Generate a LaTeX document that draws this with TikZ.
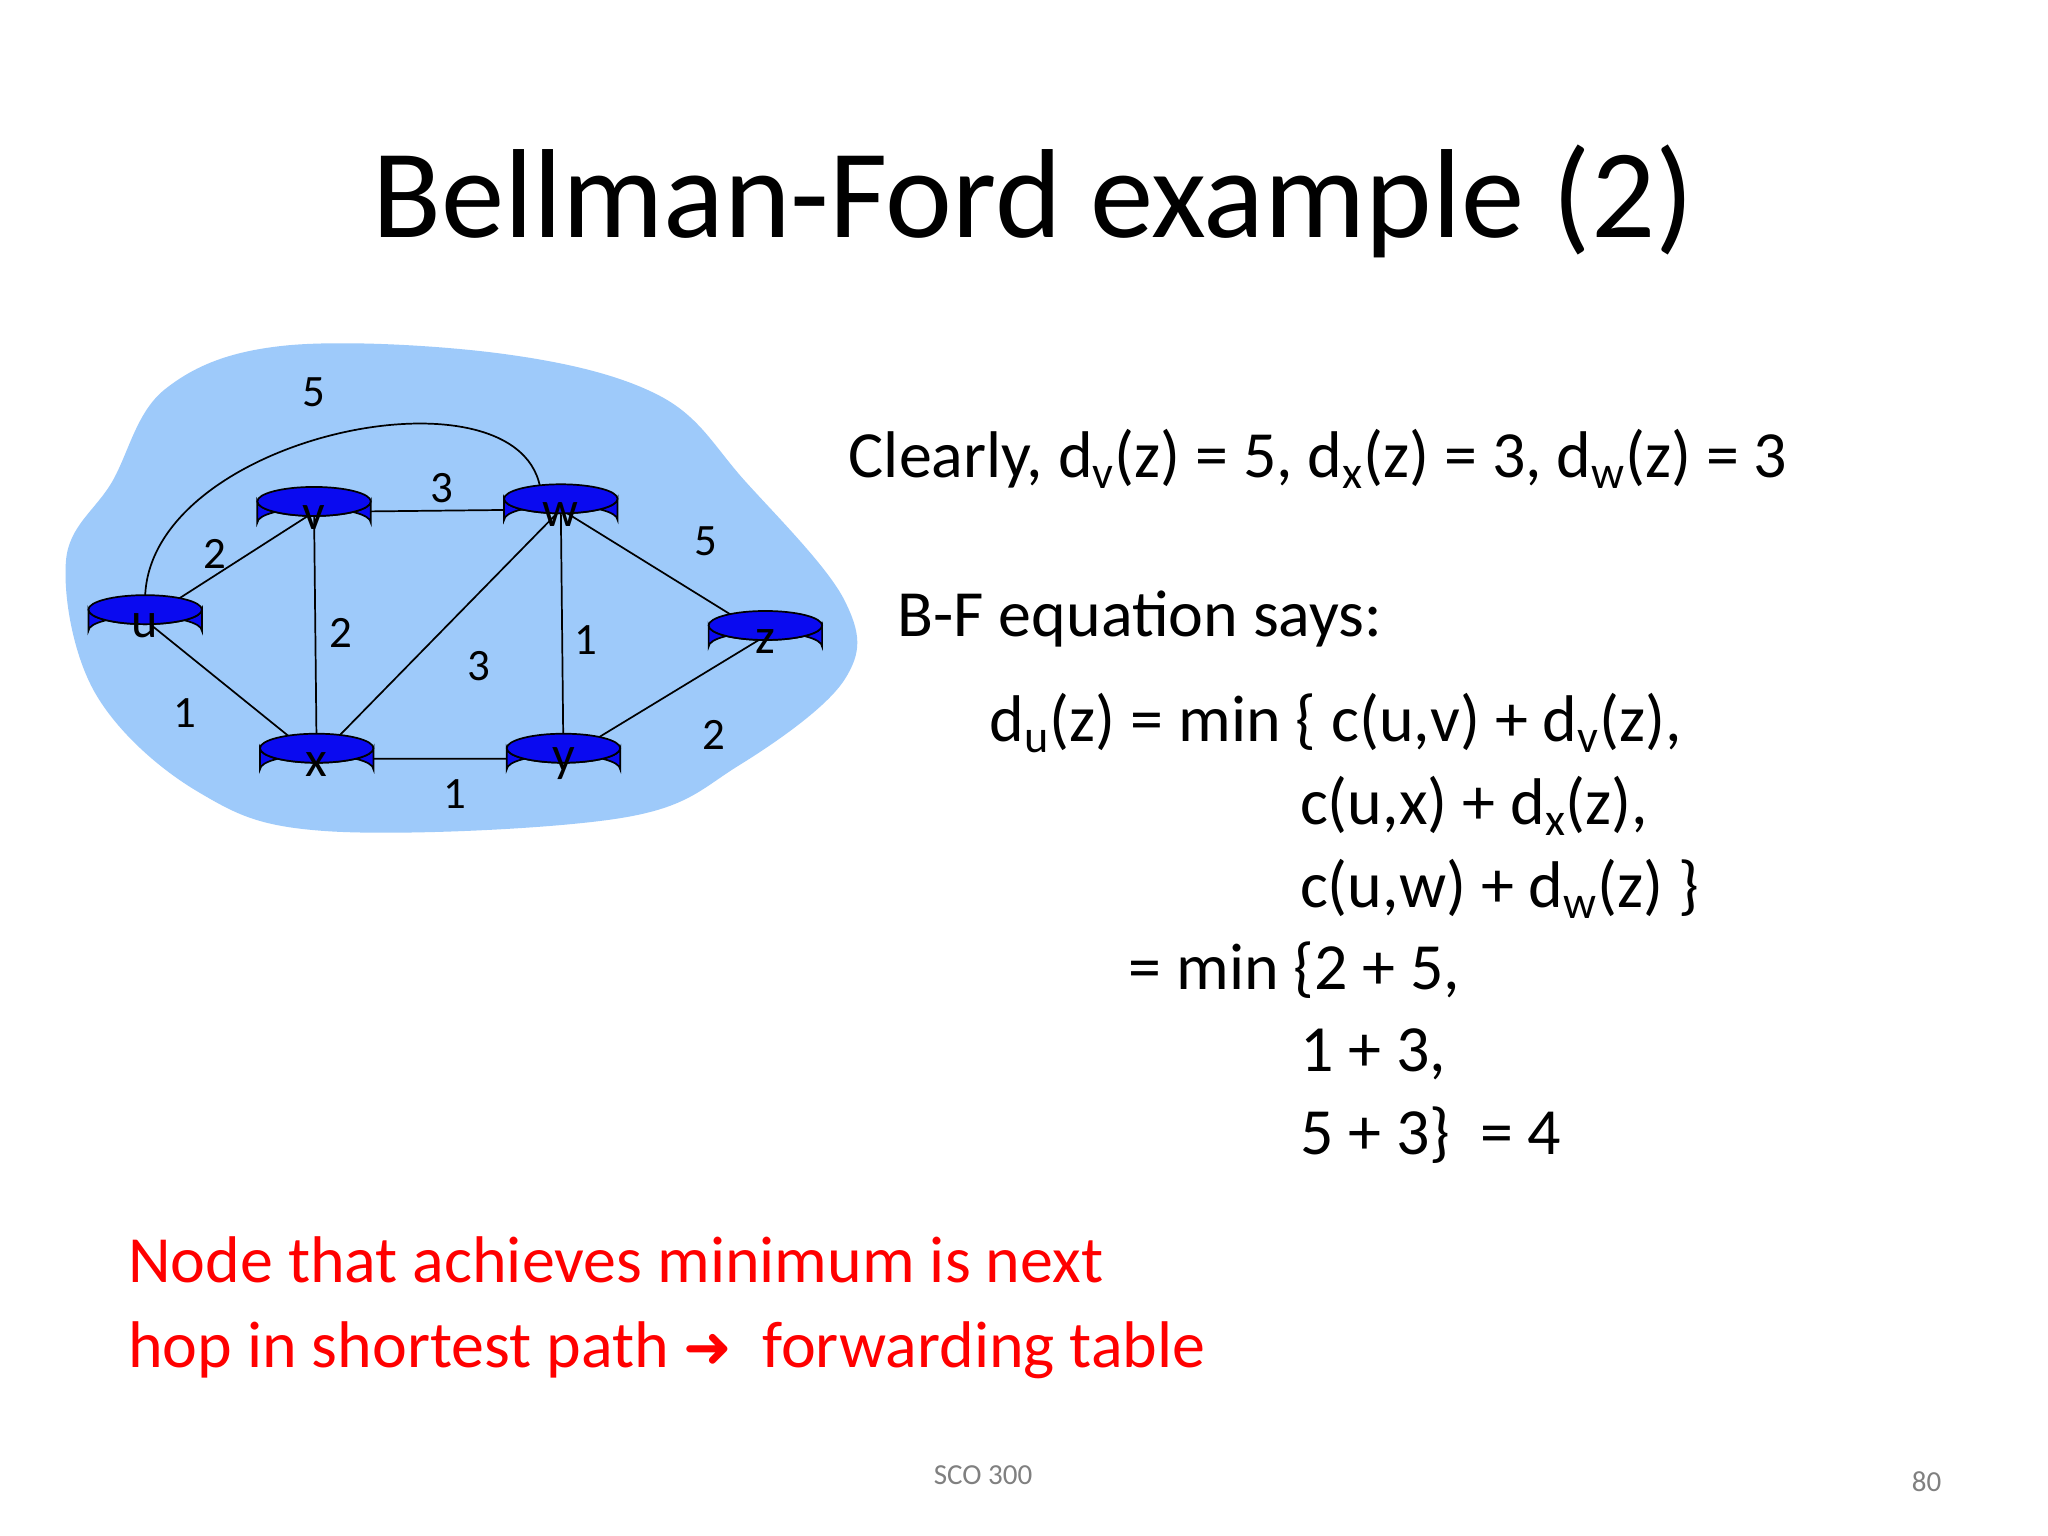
\documentclass[tikz,border=0pt]{standalone}
\usepackage{fontspec}
\usetikzlibrary{calc}
\setmainfont{Carlito}
\newfontfamily\dejavu{DejaVu Sans}
\definecolor{blob}{RGB}{158,202,250}
\definecolor{rblue}{RGB}{10,10,240}
\begin{document}
\begin{tikzpicture}[x=1pt,y=-1pt,
  lbl/.style={font=\fontsize{34}{40}\selectfont},
  txt/.style={anchor=base west,inner sep=0,font=\fontsize{50}{60}\selectfont},
  edge/.style={line width=1.3pt}]
\useasboundingbox (0,0) rectangle (1552,1164);
\fill[white] (0,0) rectangle (1552,1164);
\node[anchor=base,inner sep=0,font=\fontsize{96}{110}\selectfont] (title) at (783,180) {Bellman-Ford example (2)};
\fill[blob] plot[smooth cycle,tension=0.6] coordinates {(125,295) (215,262) (380,268) (500,300) (565,365) (640,455) (640,515) (560,580) (470,620) (250,630) (150,600) (72,525) (50,425) (85,365)};
\coordinate (u) at (110,470);
\coordinate (v) at (238,388);
\coordinate (w) at (425,386);
\coordinate (z) at (580,482);
\coordinate (x) at (240,575);
\coordinate (y) at (427,575);
\draw[edge] (u) -- (v) (u) -- (x) (v) -- (x) (v) -- (w) (w) -- (x) (w) -- (y) (w) -- (z) (x) -- (y) (y) -- (z);
\draw[edge] ($(u)+(0,-12)$) .. controls (105,330) and (400,270) .. ($(w)+(-15,-12)$);
\foreach \n/\t in {u/u,v/v,w/w,z/z,x/x,y/y}{
  \fill[rblue,draw=black,line width=1.3pt] ($(\n)+(-43,-8)$) -- ($(\n)+(-43,8)$) arc[start angle=180,end angle=360,x radius=43,y radius=11] -- ($(\n)+(43,-8)$) arc[start angle=0,end angle=180,x radius=43,y radius=11] -- cycle;
  \draw[black,line width=1.3pt,fill=rblue] ($(\n)+(0,-8)$) ellipse[x radius=43,y radius=11];
  \node[inner sep=0,font=\fontsize{38}{40}\selectfont] (lab\n) at ($(\n)+(0,4)$) {\t};
}
\node[lbl] (e1) at (238,297) {5};
\node[lbl] (e2) at (335,370) {3};
\node[lbl] (e3) at (163,420) {2};
\node[lbl] (e4) at (535,410) {5};
\node[lbl] (e5) at (258,480) {2};
\node[lbl] (e6) at (363,505) {3};
\node[lbl] (e7) at (444,485) {1};
\node[lbl] (e8) at (140,540) {1};
\node[lbl] (e9) at (541,557) {2};
\node[lbl] (e10) at (345,602) {1};
\node[txt] (t1) at (643,362) {Clearly, d\textsubscript{v}(z) = 5, d\textsubscript{x}(z) = 3, d\textsubscript{w}(z) = 3};
\node[txt] (t2) at (680,482) {B-F equation says:};
\node[txt] (t3) at (750,562) {d\textsubscript{u}(z) = min \{ c(u,v) + d\textsubscript{v}(z),};
\node[txt] (t4) at (985,625) {c(u,x) + d\textsubscript{x}(z),};
\node[txt] (t5) at (985,688) {c(u,w) + d\textsubscript{w}(z) \}};
\node[txt] (t6) at (855,750) {= min \{2 + 5,};
\node[txt] (t7) at (985,812) {1 + 3,};
\node[txt] (t8) at (985,875) {5 + 3\}\ \ = 4};
\node[txt,text=red] (r1) at (97,972) {Node that achieves minimum is next};
\node[txt,text=red] (r2) at (97,1036) {hop in shortest path {\dejavu\fontsize{44}{50}\selectfont ➜}\ \ forwarding table};
\node[anchor=base,inner sep=0,text=gray,font=\fontsize{22}{26}\selectfont] (f1) at (745,1125) {SCO 300};
\node[anchor=base,inner sep=0,text=gray,font=\fontsize{22}{26}\selectfont] (f2) at (1460,1130) {80};
\end{tikzpicture}
\end{document}
